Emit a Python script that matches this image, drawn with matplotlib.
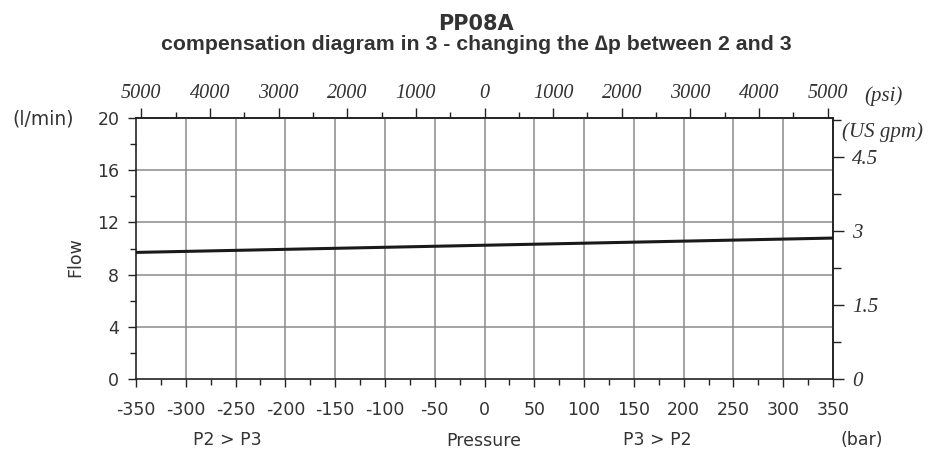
import numpy as np
import matplotlib
matplotlib.use("Agg")
import matplotlib.pyplot as plt
from matplotlib.ticker import MultipleLocator, FixedLocator, FuncFormatter

# --- data ---
pressure_bar = [-350, 350]
flow_lpm = [9.7, 10.8]

bar_ticks = list(range(-350, 351, 50))
flow_ticks = [0, 4, 8, 12, 16, 20]
psi_ticks = [-5000, -4000, -3000, -2000, -1000, 0, 1000, 2000, 3000, 4000, 5000]
gpm_ticks = [0, 1.5, 3, 4.5]

BAR_PER_PSI = 0.0689476
GPM_PER_LPM = 0.264172

txt = "#333333"
grid_c = "#8a8a8a"
serif = "Liberation Serif"

fig = plt.figure(figsize=(9.3, 4.57), dpi=100)
ax = fig.add_axes([136 / 930, 1 - 379 / 457, 697 / 930, 261 / 457])

ax.plot(pressure_bar, flow_lpm, color="#1a1a1a", lw=2.2, solid_capstyle="butt", zorder=3)

ax.set_xlim(-350, 350)
ax.set_ylim(0, 20)

# grid
for x in bar_ticks[1:-1]:
    ax.axvline(x, color=grid_c, lw=1.1, zorder=1)
for y in flow_ticks[1:-1]:
    ax.axhline(y, color=grid_c, lw=1.1, zorder=1)

# bottom / left ticks
ax.xaxis.set_major_locator(FixedLocator(bar_ticks))
ax.xaxis.set_minor_locator(MultipleLocator(25))
ax.set_xticklabels([str(v) for v in bar_ticks])
ax.yaxis.set_major_locator(FixedLocator(flow_ticks))
ax.yaxis.set_minor_locator(MultipleLocator(2))
ax.tick_params(axis="both", which="major", direction="out", length=6, width=1,
               labelsize=12.5, labelcolor=txt, color="#222222")
ax.tick_params(axis="both", which="minor", direction="out", length=4, width=1, color="#222222")
ax.tick_params(axis="x", pad=10)
ax.tick_params(axis="y", pad=6)
for s in ax.spines.values():
    s.set_color("#222222")
    s.set_linewidth(1.2)

# secondary axes: psi (top), US gpm (right)
top = ax.secondary_xaxis("top", functions=(lambda b: b / BAR_PER_PSI, lambda p: p * BAR_PER_PSI))
top.xaxis.set_major_locator(FixedLocator(psi_ticks))
top.xaxis.set_minor_locator(MultipleLocator(500))
top.xaxis.set_major_formatter(FuncFormatter(lambda v, p: f"{abs(v):.0f}"))
top.tick_params(which="major", direction="out", length=7, width=1, color="#222222", pad=4)
top.tick_params(which="minor", direction="out", length=4, width=1, color="#222222")
for lab in top.get_xticklabels():
    lab.set_fontfamily(serif)
    lab.set_fontstyle("italic")
    lab.set_fontsize(14.5)
    lab.set_color(txt)

right = ax.secondary_yaxis("right", functions=(lambda l: l * GPM_PER_LPM, lambda g: g / GPM_PER_LPM))
right.yaxis.set_major_locator(FixedLocator(gpm_ticks))
right.yaxis.set_minor_locator(MultipleLocator(0.75))
right.yaxis.set_major_formatter(FuncFormatter(lambda v, p: f"{v:g}"))
right.tick_params(which="major", direction="out", length=8, width=1, color="#222222", pad=6)
right.tick_params(which="minor", direction="out", length=6, width=1, color="#222222")
for lab in right.get_yticklabels():
    lab.set_fontfamily(serif)
    lab.set_fontstyle("italic")
    lab.set_fontsize(15)
    lab.set_color(txt)
for sax in (top, right):
    for s in sax.spines.values():
        s.set_color("#222222")
        s.set_linewidth(1.2)

# titles
fig.text(476 / 930, 1 - 30 / 457, "PP08A", ha="center", va="baseline",
         fontsize=15, fontweight="bold", color=txt, family="DejaVu Sans")
fig.text(476 / 930, 1 - 50 / 457, "compensation diagram in 3 - changing the \u2206p between 2 and 3",
         ha="center", va="baseline", fontsize=15.3, fontweight="bold", color=txt,
         family=["Liberation Sans", "DejaVu Sans"])

# unit / axis labels
fig.text(12 / 930, 1 - 119 / 457, "(l/min)", ha="left", va="center", fontsize=13.5, color=txt)
fig.text(75 / 930, 1 - 257 / 457, "Flow", ha="center", va="center", rotation=90,
         fontsize=12.5, color=txt)
fig.text(864 / 930, 1 - 96 / 457, "(psi)", ha="left", va="center", fontsize=15,
         color=txt, family=serif, style="italic")
fig.text(842 / 930, 1 - 132 / 457, "(US gpm)", ha="left", va="center", fontsize=15,
         color=txt, family=serif, style="italic")
fig.text(227 / 930, 1 - 440 / 457, "P2 > P3", ha="center", va="center", fontsize=12.5, color=txt)
fig.text(484 / 930, 1 - 441 / 457, "Pressure", ha="center", va="center", fontsize=12.5, color=txt)
fig.text(657 / 930, 1 - 440 / 457, "P3 > P2", ha="center", va="center", fontsize=12.5, color=txt)
fig.text(862 / 930, 1 - 440 / 457, "(bar)", ha="center", va="center", fontsize=12.5, color=txt)

fig.savefig("out.png", dpi=100, facecolor="white")
